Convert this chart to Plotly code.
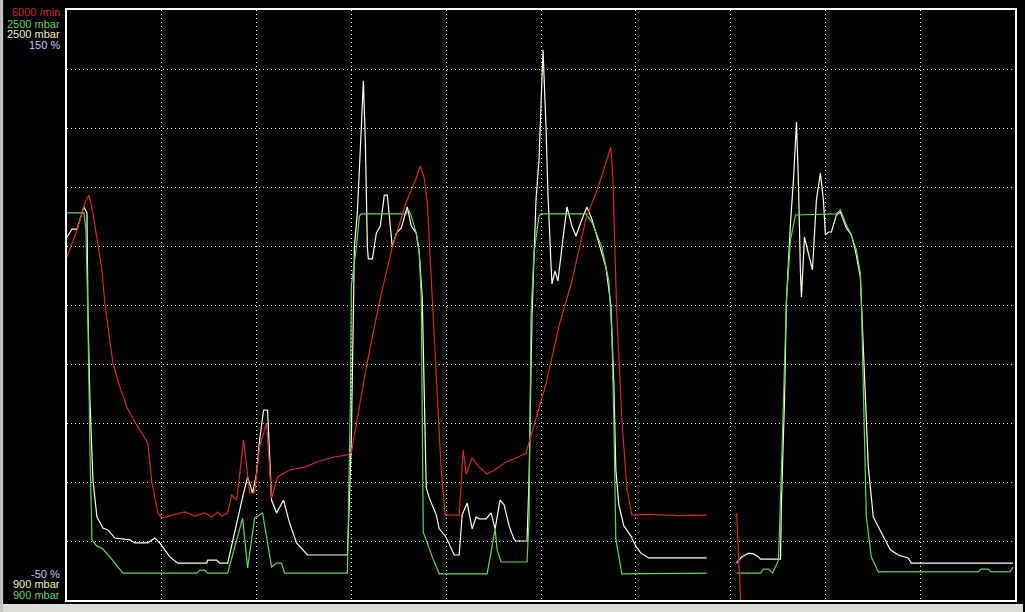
import plotly.graph_objects as go

# ---- data (time in s, engine speed in 1/min, boost pressures in mbar) ----
t_rpm = [0, 1.0, 1.8, 2.2, 2.6, 3.1, 3.5, 3.8, 4.6, 5.3, 6.0, 6.8, 8.1, 8.5, 9.1, 9.5,
         10.3, 11.3, 11.8, 12.8, 13.8, 14.5, 15.1, 15.5, 16.1, 16.5, 17.0, 17.7, 18.3,
         18.8, 19.3, 20.0, 20.5, 21.1, 22.3, 23.8, 25.3, 26.8, 28.1, 28.5, 29.3, 30.0,
         31.3, 32.6, 34.0, 35.0, 35.4, 35.8, 36.1, 36.5, 37.0, 37.5, 37.9, 38.6, 39.3,
         39.7, 40.0, 40.6, 41.3, 42.1, 43.0, 44.0, 45.0, 46.0, 46.6, 48.0, 49.3, 50.6,
         52.0, 53.3, 54.5, 54.7, 55.1, 55.6, 56.1, 56.6, 58.3, 61.3, 64.1, None, 67.1, 67.5]
rpm = [3488, 3763, 4037, 4118, 3935, 3590, 3356, 3010, 2410, 2166, 1963, 1810, 1597, 1200,
       885, 834, 854, 875, 895, 854, 885, 844, 895, 854, 885, 1068, 1017, 1627, 1088,
       1088, 1556, 1800, 1037, 1251, 1322, 1352, 1414, 1454, 1475, 1505, 1952, 2369,
       3030, 3590, 4047, 4291, 4413, 4291, 4047, 3244, 2197, 1322, 864, 864, 864,
       1525, 1281, 1444, 1352, 1281, 1332, 1403, 1444, 1495, 1698, 2197, 2786, 3244,
       3874, 4220, 4607, 4291, 2898, 1841, 1139, 864, 870, 858, 864, None, 885, 0]

t_set = [0, 1.7, 1.9, 2.1, 2.3, 2.5, 3.0, 3.5, 4.3, 5.0, 5.6, 13.0, 13.3, 13.8, 14.1,
         16.1, 17.6, 18.1, 18.8, 19.6, 20.5, 21.0, 21.5, 21.8, 28.1, 28.4, 28.5, 29.0,
         29.3, 29.5, 34.0, 34.2, 34.5, 35.0, 35.3, 35.5, 35.6, 35.7, 36.1, 36.6, 37.3,
         42.1, 42.6, 42.9, 43.1, 43.5, 46.1, 46.3, 46.5, 46.8, 47.3, 47.5, 52.0, 52.6,
         53.6, 54.3, 54.6, 54.8, 55.0, 55.3, 55.6, 64.1, None,
         67.1, 69.5, 69.8, 70.3, 70.7, 71.3, 71.6, 71.9, 72.1, 72.5, 73.0, 77.1, 77.5,
         78.1, 78.6, 79.1, 79.5, 79.6, 79.8, 80.0, 80.1, 80.6, 81.3, 91.3, 91.6, 92.3,
         92.6, 94.5, 94.8]
boost_set = [1950, 1950, 1903, 1659, 1307, 1063, 1046, 1041, 1017, 992, 973, 973, 981,
             981, 973, 973, 1122, 987, 1122, 1136, 989, 1000, 1000, 973, 973, 1442,
             1754, 1857, 1941, 1947, 1947, 1960, 1941, 1895, 1841, 1719, 1442, 1084,
             1055, 1017, 971, 971, 1046, 1093, 1036, 1003, 1003, 1112, 1673, 1841, 1941,
             1947, 1947, 1925, 1857, 1765, 1624, 1391, 1065, 1017, 971, 973, None,
             973, 973, 984, 984, 973, 1008, 1261, 1532, 1714, 1876, 1944, 1947, 1958,
             1917, 1890, 1849, 1787, 1714, 1488, 1261, 1125, 1017, 976, 976, 984, 984,
             976, 976, 989]

t_act = [0, 0.5, 1.0, 1.7, 2.0, 2.1, 2.3, 2.6, 3.0, 3.6, 4.1, 4.8, 6.3, 6.8, 8.1, 8.8,
         9.3, 10.3, 11.1, 14.0, 14.1, 15.0, 15.3, 16.1, 17.6, 18.1, 18.6, 19.0, 19.3,
         19.7, 20.1, 20.5, 21.0, 21.7, 22.3, 23.0, 24.1, 28.1, 28.3, 28.5, 28.8, 29.1,
         29.5, 29.7, 29.9, 30.1, 30.2, 30.6, 31.0, 31.4, 31.8, 32.1, 32.3, 32.6, 33.0,
         33.5, 34.1, 34.5, 35.0, 35.3, 35.6, 35.8, 36.0, 36.3, 37.0, 37.3, 37.9, 38.3,
         38.8, 39.3, 39.6, 40.1, 40.6, 41.0, 41.3, 42.0, 42.5, 42.9, 43.4, 43.8, 44.3,
         44.8, 45.0, 46.1, 46.3, 46.6, 47.0, 47.3, 47.5, 47.7, 48.0, 48.2, 48.5, 48.6,
         48.9, 49.2, 49.6, 50.1, 50.6, 51.0, 51.5, 52.1, 52.6, 53.3, 54.0, 54.5, 54.8,
         55.0, 55.3, 55.8, 56.5, 57.0, 57.5, 58.3, 64.1, None,
         67.1, 67.6, 68.3, 68.8, 69.3, 69.5, 71.5, 71.6, 71.9, 72.1, 72.5, 72.8, 73.1,
         73.3, 73.5, 73.6, 73.9, 74.3, 74.7, 75.1, 75.5, 75.8, 76.0, 76.3, 76.6, 77.1,
         77.5, 78.1, 78.6, 79.0, 79.5, 79.6, 80.0, 80.3, 80.8, 81.5, 82.0, 82.5, 83.3,
         84.3, 84.6, 94.8]
boost_act = [1884, 1906, 1906, 1966, 1950, 1678, 1442, 1225, 1125, 1095, 1090, 1068,
             1063, 1055, 1055, 1068, 1055, 1017, 1000, 1000, 1008, 1008, 1000, 1000,
             1179, 1234, 1190, 1244, 1334, 1415, 1415, 1171, 1136, 1171, 1109, 1055,
             1022, 1022, 1171, 1345, 1857, 1952, 2185, 2308, 2139, 1857, 1825, 1825,
             1895, 1914, 1998, 1998, 1941, 1857, 1895, 1909, 1966, 1914, 1895, 1841,
             1719, 1486, 1204, 1177, 1131, 1093, 1074, 1052, 1022, 1022, 1131, 1163,
             1093, 1125, 1120, 1120, 1136, 1093, 1171, 1158, 1101, 1065, 1060, 1060,
             1225, 1673, 1985, 2093, 2232, 2392, 2185, 1998, 1811, 1757, 1792, 1765,
             1857, 1966, 1914, 1887, 1925, 1966, 1933, 1868, 1803, 1700, 1486, 1253,
             1158, 1101, 1074, 1046, 1027, 1014, 1014, None,
             1000, 1017, 1027, 1025, 1017, 1011, 1011, 1171, 1442, 1714, 1922, 2039,
             2196, 2031, 1787, 1722, 1884, 1841, 1795, 1985, 2058, 1985, 1890, 1898,
             1898, 1944, 1952, 1909, 1890, 1849, 1776, 1714, 1442, 1261, 1125, 1090,
             1063, 1036, 1022, 1014, 1000, 1000]

top_labels = ["6000 /min", "2500 mbar", "2500 mbar", "150 %"]
bottom_labels = ["-50 %", "900 mbar", "900 mbar"]

RED = "rgb(205,45,45)"
GREEN = "rgb(100,210,100)"
WHITE = "rgb(255,255,225)"
LAV = "rgb(200,200,255)"

fig = go.Figure()
fig.add_trace(go.Scatter(x=t_rpm, y=rpm, yaxis="y2", mode="lines",
                         line=dict(color=RED, width=1.2), connectgaps=False))
fig.add_trace(go.Scatter(x=t_act, y=boost_act, mode="lines",
                         line=dict(color=WHITE, width=1.2), connectgaps=False))
fig.add_trace(go.Scatter(x=t_set, y=boost_set, mode="lines",
                         line=dict(color=GREEN, width=1.2), connectgaps=False))

grid = dict(showgrid=True, gridcolor="white", griddash="1px,3px", gridwidth=1,
            showticklabels=False, ticks="", zeroline=False,
            showline=True, mirror=True, linecolor="white", linewidth=1.5)

fig.update_layout(
    width=1025, height=612,
    margin=dict(l=67, r=8, t=10, b=12),
    paper_bgcolor="black", plot_bgcolor="black",
    showlegend=False,
    xaxis=dict(range=[0, 95], tick0=0, dtick=9.5, **grid),
    yaxis=dict(range=[900, 2500], tick0=900, dtick=160, **grid),
    yaxis2=dict(range=[0, 6000], overlaying="y", visible=False),
)

top_colors = [RED, GREEN, "rgb(240,240,200)", LAV]
top_y = [0.9958, 0.9771, 0.9593, 0.9407]
for txt, c, y in zip(top_labels, top_colors, top_y):
    fig.add_annotation(text=txt, x=0, y=y, xref="paper", yref="paper",
                       xanchor="right", yanchor="middle", xshift=-5, showarrow=False,
                       font=dict(family="Arial, Liberation Sans", size=11, color=c))
bot_colors = [LAV, "rgb(240,240,200)", GREEN]
bot_y = [0.0441, 0.0263, 0.0085]
for txt, c, y in zip(bottom_labels, bot_colors, bot_y):
    fig.add_annotation(text=txt, x=0, y=y, xref="paper", yref="paper",
                       xanchor="right", yanchor="middle", xshift=-5, showarrow=False,
                       font=dict(family="Arial, Liberation Sans", size=11, color=c))

# window frame strips (light grey) at bottom and left edge
fig.add_shape(type="rect", xref="paper", yref="paper", x0=-0.0706, x1=1.0085,
              y0=-0.0205, y1=-0.0068, fillcolor="rgb(222,220,214)", line_width=0, layer="below")
fig.add_shape(type="rect", xref="paper", yref="paper", x0=-0.0706, x1=-0.0674,
              y0=-0.0205, y1=1.017, fillcolor="rgb(200,198,192)", line_width=0, layer="below")

fig.write_html("out.html", config={"displayModeBar": False},
               post_script="document.body.style.margin='0';document.body.style.background='black';")
